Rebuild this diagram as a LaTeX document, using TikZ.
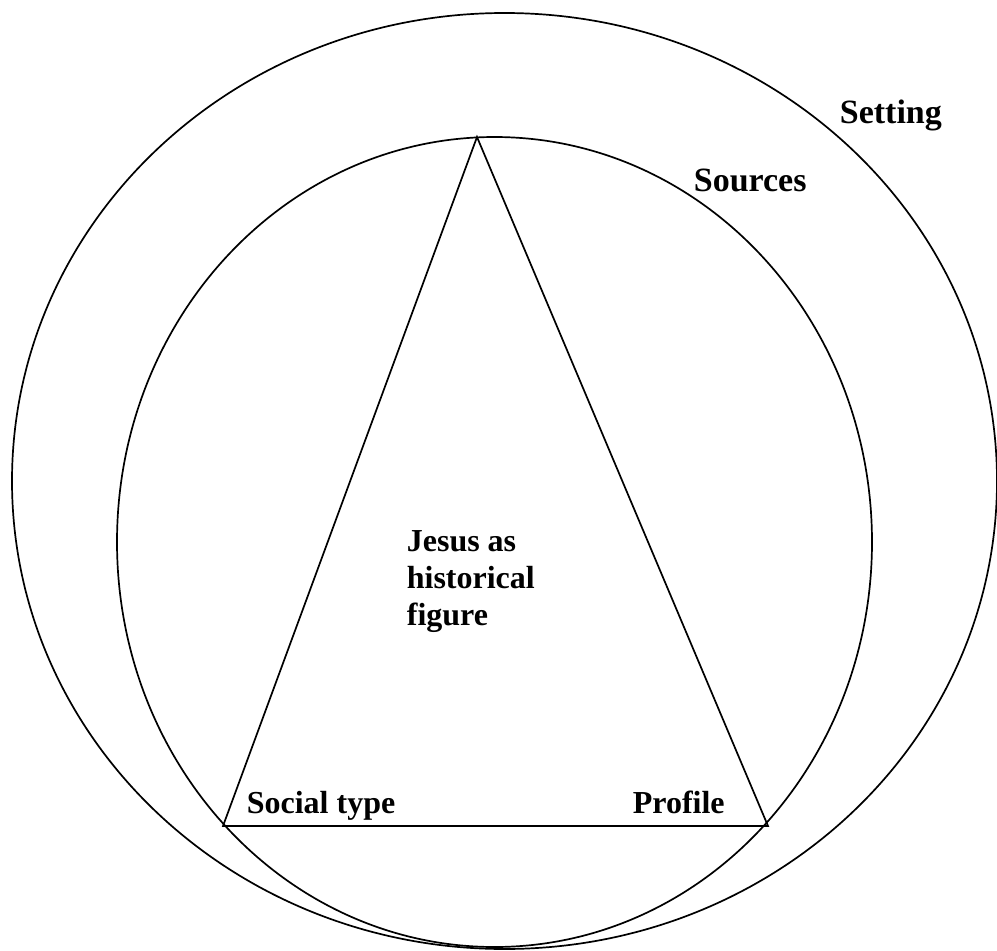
\documentclass[tikz,border=0pt]{standalone}
\usepackage{fontspec}
\setmainfont{Liberation Serif}
\begin{document}
\begin{tikzpicture}[x=1pt,y=-1pt,line width=1.7pt,
  lbl/.style={font=\fontsize{32}{37}\selectfont\bfseries,anchor=base west,inner sep=0pt,align=left},
  biglbl/.style={lbl,font=\fontsize{34}{40}\selectfont\bfseries}]
\useasboundingbox (0,0) rectangle (997,951);
\fill[white] (0,0) rectangle (997,951);
% outer ellipse (Setting)
\draw (504.5,481) ellipse [x radius=492.5, y radius=468];
% inner ellipse (Sources)
\draw (494.5,542) ellipse [x radius=377.5, y radius=405];
% triangle
\coordinate (apex) at (477,137);
\coordinate (bl) at (223,826);
\coordinate (br) at (768,826);
\draw[line join=miter] (apex) -- (bl) -- (br) -- cycle;
% labels
\node[biglbl] (setting) at (839,123) {Setting};
\node[biglbl] (sources) at (693,191) {Sources};
\node[lbl] (social) at (246,813) {Social type};
\node[lbl] (profile) at (632,813) {Profile};
\node[lbl] (jesus) at (406,625) {Jesus as\\historical\\figure};
\end{tikzpicture}
\end{document}
